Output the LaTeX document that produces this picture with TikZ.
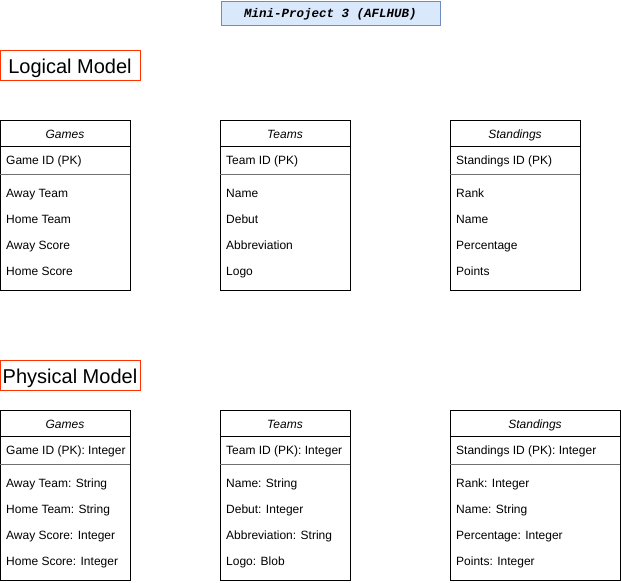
\documentclass[tikz,border=0pt]{standalone}
\usepackage{fontspec}
\setmainfont{Liberation Sans}
\newfontfamily\titlefont{Liberation Mono}
\definecolor{titlefill}{HTML}{DAE8FC}
\definecolor{titleline}{HTML}{6C8EBF}
\definecolor{modelline}{HTML}{FF3300}
\definecolor{pkline}{HTML}{707070}
\tikzset{
  titlebox/.style={draw=titleline, fill=titlefill, minimum width=219pt, minimum height=24pt, inner sep=0pt, text height=9pt, text depth=0pt, font=\titlefont\bfseries\itshape\fontsize{12.5}{14}\selectfont},
  modelbox/.style={draw=modelline, minimum width=140pt, minimum height=30pt, inner sep=0pt, text height=16.5pt, text depth=0pt, font=\fontsize{20}{24}\selectfont},
  entity/.style={draw, minimum width=130pt, minimum height=170pt, inner sep=0pt},
  header/.style={anchor=base, inner sep=0pt, font=\fontsize{12}{14}\selectfont\itshape},
  field/.style={anchor=base west, inner sep=0pt, font=\fontsize{12}{14}\selectfont},
  pksep/.style={draw=pkline, line width=1.2pt}
}
\begin{document}
\begin{tikzpicture}[x=1pt, y=-1pt]
  \useasboundingbox (0,0) rectangle (621,582);

  % Titulo
  \node[titlebox] (title) at (330.5,13) {Mini-Project 3 (AFLHUB)};

  % Modelo logico
  \node[modelbox] (logical) at (70,65) {Logical Model};

  % Games
  \node[entity] (gamesL) at (65,205) {};
  \draw (gamesL.north west) ++(0,26) -- ++(130,0);
  \draw[pksep] (gamesL.north west) ++(0,55) -- ++(130,0);
  \node[header] (gamesL-h) at (65,138) {Games};
  \node[field] (gamesL-pk) at (6,164) {Game ID (PK)};
  \node[field] (gamesL-1) at (6,197) {Away Team};
  \node[field] (gamesL-2) at (6,223) {Home Team};
  \node[field] (gamesL-3) at (6,249) {Away Score};
  \node[field] (gamesL-4) at (6,275) {Home Score};

  % Teams
  \node[entity] (teamsL) at (285,205) {};
  \draw (teamsL.north west) ++(0,26) -- ++(130,0);
  \draw[pksep] (teamsL.north west) ++(0,55) -- ++(130,0);
  \node[header] (teamsL-h) at (285,138) {Teams};
  \node[field] (teamsL-pk) at (226,164) {Team ID (PK)};
  \node[field] (teamsL-1) at (226,197) {Name};
  \node[field] (teamsL-2) at (226,223) {Debut};
  \node[field] (teamsL-3) at (226,249) {Abbreviation};
  \node[field] (teamsL-4) at (226,275) {Logo};

  % Standings
  \node[entity] (standL) at (515,205) {};
  \draw (standL.north west) ++(0,26) -- ++(130,0);
  \draw[pksep] (standL.north west) ++(0,55) -- ++(130,0);
  \node[header] (standL-h) at (515,138) {Standings};
  \node[field] (standL-pk) at (456,164) {Standings ID (PK)};
  \node[field] (standL-1) at (456,197) {Rank};
  \node[field] (standL-2) at (456,223) {Name};
  \node[field] (standL-3) at (456,249) {Percentage};
  \node[field] (standL-4) at (456,275) {Points};

  % Modelo fisico
  \node[modelbox] (physical) at (70,375) {Physical Model};

  % Games
  \node[entity] (gamesP) at (65,495) {};
  \draw (gamesP.north west) ++(0,26) -- ++(130,0);
  \draw[pksep] (gamesP.north west) ++(0,55) -- ++(130,0);
  \node[header] (gamesP-h) at (65,428) {Games};
  \node[field] (gamesP-pk) at (6,454) {Game ID (PK): Integer};
  \node[field] (gamesP-1) at (6,487) {Away Team: String};
  \node[field] (gamesP-2) at (6,513) {Home Team: String};
  \node[field] (gamesP-3) at (6,539) {Away Score: Integer};
  \node[field] (gamesP-4) at (6,565) {Home Score: Integer};

  % Teams
  \node[entity] (teamsP) at (285,495) {};
  \draw (teamsP.north west) ++(0,26) -- ++(130,0);
  \draw[pksep] (teamsP.north west) ++(0,55) -- ++(130,0);
  \node[header] (teamsP-h) at (285,428) {Teams};
  \node[field] (teamsP-pk) at (226,454) {Team ID (PK): Integer};
  \node[field] (teamsP-1) at (226,487) {Name: String};
  \node[field] (teamsP-2) at (226,513) {Debut: Integer};
  \node[field] (teamsP-3) at (226,539) {Abbreviation: String};
  \node[field] (teamsP-4) at (226,565) {Logo: Blob};

  % Standings (mais larga)
  \node[entity, minimum width=170pt] (standP) at (535,495) {};
  \draw (standP.north west) ++(0,26) -- ++(170,0);
  \draw[pksep] (standP.north west) ++(0,55) -- ++(170,0);
  \node[header] (standP-h) at (535,428) {Standings};
  \node[field] (standP-pk) at (456,454) {Standings ID (PK): Integer};
  \node[field] (standP-1) at (456,487) {Rank: Integer};
  \node[field] (standP-2) at (456,513) {Name: String};
  \node[field] (standP-3) at (456,539) {Percentage: Integer};
  \node[field] (standP-4) at (456,565) {Points: Integer};

\end{tikzpicture}
\end{document}
